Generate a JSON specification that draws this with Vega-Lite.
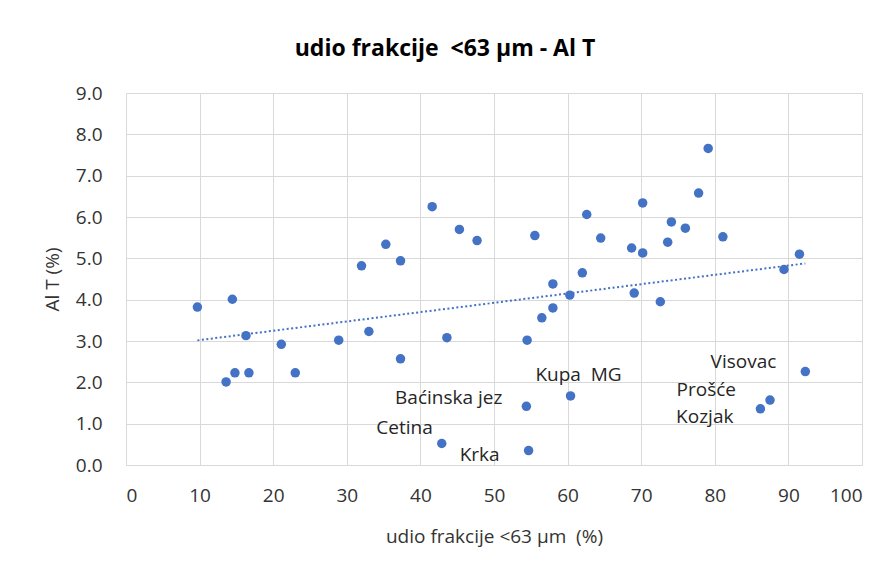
{
  "$schema": "https://vega.github.io/schema/vega-lite/v6.json",
  "width": 736,
  "height": 372,
  "autosize": {"type": "none"},
  "padding": {"left": 126, "top": 93, "right": 28, "bottom": 102},
  "background": "white",
  "config": {
    "view": {"stroke": null},
    "font": "Open Sans",
    "axis": {"domain": false, "ticks": false, "gridColor": "#d9d9d9", "gridWidth": 1, "labelFont": "Open Sans", "labelColor": "#333333", "labelFontSize": 19, "titleFont": "Open Sans", "titleFontWeight": "normal", "titleColor": "#333333", "titleFontSize": 19}
  },
  "title": {"text": "udio frakcije \u00a0<63 µm - Al T", "font": "Open Sans", "fontSize": 23, "fontWeight": "bold", "color": "#000000", "anchor": "middle", "frame": "group", "dx": -49, "offset": 23},
  "data": {"values": [
    {"udio": 9.7, "AlT": 3.82, "naziv": ""},
    {"udio": 14.45, "AlT": 4.01, "naziv": ""},
    {"udio": 16.3, "AlT": 3.13, "naziv": ""},
    {"udio": 13.6, "AlT": 2.01, "naziv": ""},
    {"udio": 14.8, "AlT": 2.23, "naziv": ""},
    {"udio": 16.7, "AlT": 2.23, "naziv": ""},
    {"udio": 21.1, "AlT": 2.92, "naziv": ""},
    {"udio": 23.0, "AlT": 2.23, "naziv": ""},
    {"udio": 28.9, "AlT": 3.02, "naziv": ""},
    {"udio": 32.0, "AlT": 4.82, "naziv": ""},
    {"udio": 33.0, "AlT": 3.23, "naziv": ""},
    {"udio": 35.3, "AlT": 5.34, "naziv": ""},
    {"udio": 37.3, "AlT": 4.94, "naziv": ""},
    {"udio": 37.3, "AlT": 2.57, "naziv": ""},
    {"udio": 41.6, "AlT": 6.25, "naziv": ""},
    {"udio": 43.6, "AlT": 3.08, "naziv": ""},
    {"udio": 45.3, "AlT": 5.70, "naziv": ""},
    {"udio": 47.7, "AlT": 5.43, "naziv": ""},
    {"udio": 42.9, "AlT": 0.52, "naziv": "Cetina"},
    {"udio": 55.55, "AlT": 5.55, "naziv": ""},
    {"udio": 62.6, "AlT": 6.06, "naziv": ""},
    {"udio": 64.5, "AlT": 5.49, "naziv": ""},
    {"udio": 70.2, "AlT": 6.34, "naziv": ""},
    {"udio": 68.7, "AlT": 5.25, "naziv": ""},
    {"udio": 70.2, "AlT": 5.13, "naziv": ""},
    {"udio": 74.1, "AlT": 5.88, "naziv": ""},
    {"udio": 76.0, "AlT": 5.73, "naziv": ""},
    {"udio": 73.6, "AlT": 5.39, "naziv": ""},
    {"udio": 77.8, "AlT": 6.58, "naziv": ""},
    {"udio": 79.1, "AlT": 7.66, "naziv": ""},
    {"udio": 81.1, "AlT": 5.52, "naziv": ""},
    {"udio": 62.0, "AlT": 4.65, "naziv": ""},
    {"udio": 58.0, "AlT": 4.38, "naziv": ""},
    {"udio": 60.3, "AlT": 4.11, "naziv": ""},
    {"udio": 58.0, "AlT": 3.80, "naziv": ""},
    {"udio": 56.5, "AlT": 3.56, "naziv": ""},
    {"udio": 54.5, "AlT": 3.02, "naziv": ""},
    {"udio": 69.05, "AlT": 4.16, "naziv": ""},
    {"udio": 72.6, "AlT": 3.95, "naziv": ""},
    {"udio": 89.4, "AlT": 4.73, "naziv": ""},
    {"udio": 91.5, "AlT": 5.10, "naziv": ""},
    {"udio": 92.3, "AlT": 2.26, "naziv": "Visovac"},
    {"udio": 87.5, "AlT": 1.57, "naziv": "Prošće"},
    {"udio": 86.2, "AlT": 1.36, "naziv": "Kozjak"},
    {"udio": 60.4, "AlT": 1.67, "naziv": "Kupa \u00a0MG"},
    {"udio": 54.4, "AlT": 1.42, "naziv": "Baćinska jez"},
    {"udio": 54.7, "AlT": 0.35, "naziv": "Krka"}
  ]},
  "encoding": {
    "x": {"field": "udio", "type": "quantitative", "scale": {"domain": [0, 100], "nice": false, "zero": false},
      "axis": {"values": [0,10,20,30,40,50,60,70,80,90,100], "title": "udio frakcije <63 µm \u00a0(%)", "labelPadding": 21, "titleY": 62, "titleBaseline": "top"}},
    "y": {"field": "AlT", "type": "quantitative", "scale": {"domain": [0, 9], "nice": false},
      "axis": {"values": [0,1,2,3,4,5,6,7,8,9], "format": ".1f", "title": "Al T (%)", "labelPadding": 24, "titleX": -64, "titleY": 186, "titleAlign": "center", "titleBaseline": "bottom"}}
  },
  "layer": [
    {"transform": [{"regression": "AlT", "on": "udio"}],
     "mark": {"type": "line", "color": "#4472C4", "strokeWidth": 2, "strokeDash": [2, 2.5]},
     "encoding": {}},
    {"mark": {"type": "circle", "color": "#4472C4", "opacity": 1, "size": 90}},
    {"transform": [{"filter": "datum.naziv == 'Baćinska jez'"}], "mark": {"type": "text", "align": "right", "baseline": "middle", "dx": -24, "dy": -8, "fontSize": 19, "color": "#262626"}, "encoding": {"text": {"field": "naziv"}}},
    {"transform": [{"filter": "datum.naziv == 'Cetina'"}], "mark": {"type": "text", "align": "right", "baseline": "middle", "dx": -9, "dy": -16, "fontSize": 19, "color": "#262626"}, "encoding": {"text": {"field": "naziv"}}},
    {"transform": [{"filter": "datum.naziv == 'Krka'"}], "mark": {"type": "text", "align": "right", "baseline": "middle", "dx": -29, "dy": 4, "fontSize": 19, "color": "#262626"}, "encoding": {"text": {"field": "naziv"}}},
    {"transform": [{"filter": "datum.naziv == 'Kupa \u00a0MG'"}], "mark": {"type": "text", "align": "center", "baseline": "middle", "dx": 8, "dy": -21, "fontSize": 19, "color": "#262626"}, "encoding": {"text": {"field": "naziv"}}},
    {"transform": [{"filter": "datum.naziv == 'Visovac'"}], "mark": {"type": "text", "align": "right", "baseline": "middle", "dx": -29, "dy": -10, "fontSize": 19, "color": "#262626"}, "encoding": {"text": {"field": "naziv"}}},
    {"transform": [{"filter": "datum.naziv == 'Prošće'"}], "mark": {"type": "text", "align": "right", "baseline": "middle", "dx": -34, "dy": -10, "fontSize": 19, "color": "#262626"}, "encoding": {"text": {"field": "naziv"}}},
    {"transform": [{"filter": "datum.naziv == 'Kozjak'"}], "mark": {"type": "text", "align": "right", "baseline": "middle", "dx": -27, "dy": 8, "fontSize": 19, "color": "#262626"}, "encoding": {"text": {"field": "naziv"}}}
  ]
}
